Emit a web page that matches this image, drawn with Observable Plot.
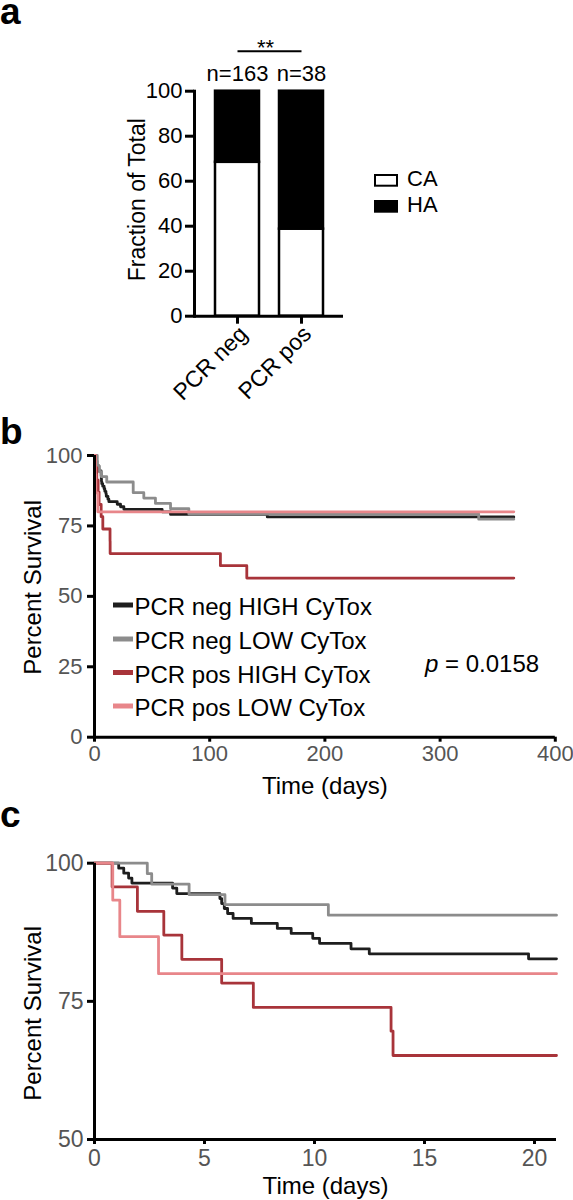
<!DOCTYPE html>
<html>
<head>
<meta charset="utf-8">
<script src="https://cdn.jsdelivr.net/npm/d3@7"></script>
<script src="https://cdn.jsdelivr.net/npm/@observablehq/plot@0.6"></script>
<style>
  html, body { margin: 0; padding: 0; background: white; }
  #fig { position: relative; width: 573px; height: 1200px; overflow: hidden; font-family: "Liberation Sans", Arial, sans-serif; }
  #fig > .panel { position: absolute; left: 0; }
  #overlay { position: absolute; left: 0; top: 0; pointer-events: none; }
</style>
</head>
<body>
<div id="fig">
  <div class="panel" id="pa" style="top:0px"></div>
  <div class="panel" id="pb" style="top:420px"></div>
  <div class="panel" id="pc" style="top:800px"></div>
</div>
<script>
// ---------- Panel a data ----------
const groups = ["PCR neg", "PCR pos"];
const groupN = [163, 38];
const caPercent = [68.4, 38.7];
const haPercent = [31.6, 61.3];
const stackTypes = ["CA", "HA"];
const sigLabel = "**";
const aTicksY = [0, 20, 40, 60, 80, 100];
const aLabelY = "Fraction of Total";

// ---------- Panels b/c data (Kaplan–Meier steps) ----------
const seriesNames = ["PCR neg HIGH CyTox", "PCR neg LOW CyTox", "PCR pos HIGH CyTox", "PCR pos LOW CyTox"];
const seriesColors = ["#1e1e1e", "#8c8c8c", "#a8343a", "#e8868a"];

const negHighDays = [0, 1.10, 1.33, 1.55, 1.70, 3.55, 3.74, 5.70, 5.78, 5.90, 6.05, 6.30, 7.13, 8.31, 8.94, 9.92, 10.23, 11.66, 12.49, 19.73, 22.6, 25.5, 58.7, 66, 150, 364];
const negHighSurv = [100, 99.1, 98.2, 97.3, 96.4, 95.5, 94.5, 93.6, 92.7, 91.8, 90.9, 90.0, 89.1, 88.2, 87.3, 86.4, 85.5, 84.5, 83.6, 82.7, 81.8, 80.9, 80.0, 79.1, 78.2, 78.2];

const negLowDays = [0, 2.4, 2.6, 4.3, 5.93, 10.63, 33.6, 42.8, 52.9, 66, 81.9, 333.5, 364];
const negLowSurv = [100, 98.1, 96.2, 94.3, 92.5, 90.6, 86.8, 84.9, 83.0, 81.1, 79.2, 77.4, 77.4];

const posHighDays = [0, 0.80, 1.95, 3.15, 3.97, 5.78, 7.22, 13.48, 13.57, 109.3, 132.2, 364];
const posHighSurv = [100, 95.7, 91.3, 87.0, 82.6, 78.3, 73.9, 69.6, 65.2, 60.9, 56.5, 56.5];

const posLowDays = [0, 0.83, 1.15, 2.91, 364];
const posLowSurv = [100, 93.3, 86.7, 80.0, 80.0];

const bDomainX = [0, 400];
const bDomainY = [0, 100];
const bTicksX = [0, 100, 200, 300, 400];
const bTicksY = [0, 25, 50, 75, 100];
const cDomainX = [0, 21];
const cDomainY = [50, 100];
const cTicksX = [0, 5, 10, 15, 20];
const cTicksY = [50, 75, 100];
const labelX = "Time (days)";
const labelY = "Percent Survival";
const pValue = "0.0158";

// ---------- helpers ----------
const FONT = "Liberation Sans, Arial, Helvetica, sans-serif";
const TICKGRAY = "#555555";
const allDays = [negHighDays, negLowDays, posHighDays, posLowDays];
const allSurv = [negHighSurv, negLowSurv, posHighSurv, posLowSurv];

function series(i, tmax) {
  const pts = [];
  for (let k = 0; k < allDays[i].length; k++) {
    if (tmax === undefined || allDays[i][k] <= tmax) pts.push({t: allDays[i][k], s: allSurv[i][k], name: seriesNames[i]});
  }
  if (tmax !== undefined) pts.push({t: tmax, s: pts[pts.length - 1].s, name: seriesNames[i]});
  return pts;
}

// ---------- Panel a ----------
const stackData = [];
groups.forEach((g, i) => {
  stackData.push({group: g, type: stackTypes[0], y1: 0, y2: caPercent[i]});
  stackData.push({group: g, type: stackTypes[1], y1: caPercent[i], y2: caPercent[i] + haPercent[i]});
});
const totals = groups.map((g, i) => ({group: g, total: caPercent[i] + haPercent[i], label: "n=" + groupN[i]}));
const sig = [{from: groups[0], to: groups[1], y: 117.8, label: sigLabel}];

const plotA = Plot.plot({
  width: 573, height: 420,
  marginTop: 90.7, marginBottom: 104.3, marginLeft: 194, marginRight: 230,
  style: {fontFamily: FONT, background: "transparent", overflow: "visible"},
  x: {domain: groups, paddingInner: 0.3125, paddingOuter: 0.32, label: null},
  y: {domain: [0, 100], label: null},
  marks: [
    Plot.barY(stackData, {x: "group", y1: "y1", y2: "y2", fill: d => d.type === "CA" ? "white" : "black", stroke: "black", strokeWidth: 2.5}),
    Plot.ruleY([0], {stroke: "black", strokeWidth: 3}),
    Plot.frame({anchor: "left", stroke: "black", strokeWidth: 3}),
    Plot.axisY({ticks: aTicksY, tickSize: 9, tickPadding: 3, fontSize: 22, stroke: "black", fill: "black", strokeWidth: 3, label: null}),
    Plot.axisX({tickSize: 8, tickFormat: () => "", stroke: "black", strokeWidth: 3, label: null}),
    Plot.axisX({tickSize: 0, tickPadding: 12, tickRotate: -45, fontSize: 23, fill: "black", dx: 6, dy: 2, label: null}),
    Plot.text([aLabelY], {frameAnchor: "left", rotate: -90, dx: -57, dy: -4, fontSize: 23, fill: "black", textAnchor: "middle", lineAnchor: "middle"}),
    Plot.text(totals, {x: "group", y: "total", text: "label", dy: -10.7, lineAnchor: "bottom", fontSize: 22, fill: "black"}),
    Plot.link(sig, {x1: "from", x2: "to", y1: "y", y2: "y", stroke: "black", strokeWidth: 2}),
    Plot.text(sig, {x: "from", y: "y", text: "label", dx: 28, dy: 4.3, lineAnchor: "bottom", fontSize: 22, fill: "black"})
  ]
});
document.getElementById("pa").appendChild(plotA);

// ---------- Panel b ----------
const linesB = [0, 1, 2, 3].map(i => Plot.line(series(i), {x: "t", y: "s", curve: "step-after", stroke: seriesColors[i], strokeWidth: 2.8}));
const plotB = Plot.plot({
  width: 573, height: 380,
  marginTop: 35, marginBottom: 63.3, marginLeft: 94, marginRight: 18.2,
  style: {fontFamily: FONT, background: "transparent", overflow: "visible"},
  x: {domain: bDomainX, label: null},
  y: {domain: bDomainY, label: null},
  marks: [
    ...linesB,
    Plot.ruleX([bDomainX[0]], {stroke: "black", strokeWidth: 3}),
    Plot.ruleY([bDomainY[0]], {stroke: "black", strokeWidth: 3}),
    Plot.axisY({ticks: bTicksY, tickSize: 7, tickPadding: 5, fontSize: 22, stroke: "black", fill: TICKGRAY, strokeWidth: 3, label: null}),
    Plot.axisX({ticks: bTicksX, tickSize: 5, tickPadding: 3, fontSize: 22, stroke: "black", fill: TICKGRAY, strokeWidth: 3, label: null}),
    Plot.text([labelX], {frameAnchor: "bottom", dy: 57, lineAnchor: "bottom", fontSize: 24, fill: "black"}),
    Plot.text([labelY], {frameAnchor: "left", rotate: -90, dx: -61, dy: -9, textAnchor: "middle", lineAnchor: "middle", fontSize: 24, fill: "black"})
  ]
});
document.getElementById("pb").appendChild(plotB);

// ---------- Panel c ----------
const linesC = [0, 1, 2, 3].map(i => Plot.line(series(i, cDomainX[1]), {x: "t", y: "s", curve: "step-after", stroke: seriesColors[i], strokeWidth: 2.8}));
const plotC = Plot.plot({
  width: 573, height: 400,
  marginTop: 62.7, marginBottom: 61, marginLeft: 94, marginRight: 17,
  style: {fontFamily: FONT, background: "transparent", overflow: "visible"},
  x: {domain: cDomainX, label: null},
  y: {domain: cDomainY, label: null},
  marks: [
    ...linesC,
    Plot.ruleX([cDomainX[0]], {stroke: "black", strokeWidth: 3}),
    Plot.ruleY([cDomainY[0]], {stroke: "black", strokeWidth: 3}),
    Plot.axisY({ticks: cTicksY, tickSize: 7, tickPadding: 4, fontSize: 23, stroke: "black", fill: TICKGRAY, strokeWidth: 3, label: null}),
    Plot.axisX({ticks: cTicksX, tickSize: 5, tickPadding: 5, fontSize: 23, stroke: "black", fill: TICKGRAY, strokeWidth: 3, label: null}),
    Plot.text([labelX], {frameAnchor: "bottom", dy: 54, lineAnchor: "bottom", fontSize: 24, fill: "black"}),
    Plot.text([labelY], {frameAnchor: "left", rotate: -90, dx: -61, dy: 12, textAnchor: "middle", lineAnchor: "middle", fontSize: 24, fill: "black"})
  ]
});
document.getElementById("pc").appendChild(plotC);

// ---------- Overlay: panel letters, legends, p-value ----------
const svg = d3.select("#fig").append("svg").attr("id", "overlay")
  .attr("width", 573).attr("height", 1200)
  .style("font-family", FONT);

const letters = [{t: "a", y: 24}, {t: "b", y: 444}, {t: "c", y: 827}];
svg.selectAll("text.letter").data(letters).join("text").attr("class", "letter")
  .attr("x", 0).attr("y", d => d.y).attr("font-size", 37).attr("font-weight", "bold").text(d => d.t);

// legend a
const legA = [{type: stackTypes[0], fill: "white"}, {type: stackTypes[1], fill: "black"}];
const gA = svg.append("g");
legA.forEach((d, i) => {
  const base = 185.7 + i * 26;
  gA.append("rect").attr("x", 375).attr("y", base - 10.7).attr("width", 22).attr("height", 10.7)
    .attr("fill", d.fill).attr("stroke", "black").attr("stroke-width", 2);
  gA.append("text").attr("x", 407).attr("y", base).attr("font-size", 22).text(d.type);
});

// legend b
const gB = svg.append("g");
const rowY = [605, 639, 672.5, 706];
seriesNames.forEach((name, i) => {
  gB.append("line").attr("x1", 113).attr("x2", 133).attr("y1", rowY[i]).attr("y2", rowY[i])
    .attr("stroke", seriesColors[i]).attr("stroke-width", 5);
  gB.append("text").attr("x", 134.5).attr("y", rowY[i] + 10).attr("font-size", 24).text(name);
});

// p-value
const pt = svg.append("text").attr("x", 425).attr("y", 672.3).attr("font-size", 24);
pt.append("tspan").attr("font-style", "italic").text("p");
pt.append("tspan").text(" = " + pValue);
</script>
</body>
</html>
